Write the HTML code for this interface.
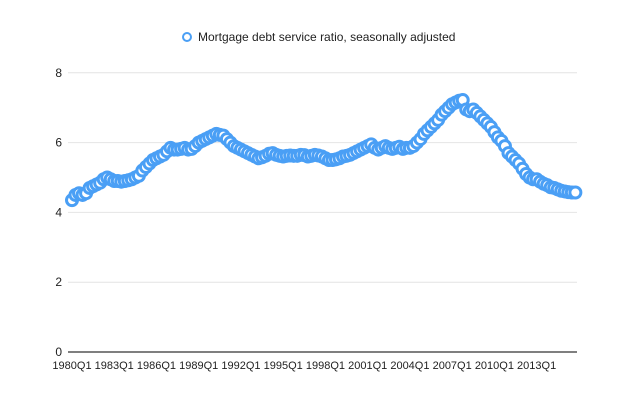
<!DOCTYPE html>
<html><head><meta charset="utf-8"><style>
body{margin:0;background:#fff;font-family:"Liberation Sans",Arial,sans-serif;}
</style></head><body>
<svg id="chart" width="640" height="410" xmlns="http://www.w3.org/2000/svg" font-family="Liberation Sans, Arial, sans-serif">
<g>
<circle cx="187" cy="37" r="4" fill="#fff" stroke="#4a9ff5" stroke-width="2"/>
<text x="198" y="41" font-size="12" fill="#222">Mortgage debt service ratio, seasonally adjusted</text>
</g>
<g id="grid"></g>
<g id="yt"></g>
<g id="xt"></g>
<g id="pts"></g>
</svg>
<script>
const yTicks=[0,2,4,6,8];
const xLabels=["1980Q1","1983Q1","1986Q1","1989Q1","1992Q1","1995Q1","1998Q1","2001Q1","2004Q1","2007Q1","2010Q1","2013Q1"];
const values=[
4.35,4.5,4.55,4.5, 4.55,4.7,4.75,4.8, 4.85,4.95,5.0,4.95, 4.9,4.9,4.88,4.9,
4.92,4.95,5.0,5.05, 5.2,5.3,5.4,5.5, 5.55,5.6,5.65,5.75, 5.85,5.8,5.8,5.82,
5.85,5.8,5.82,5.9, 6.0,6.05,6.1,6.15, 6.2,6.25,6.22,6.2, 6.1,6.0,5.9,5.85,
5.8,5.75,5.7,5.65, 5.6,5.55,5.58,5.62, 5.68,5.7,5.65,5.62, 5.6,5.62,5.63,5.62,
5.62,5.65,5.64,5.6, 5.62,5.65,5.63,5.6, 5.55,5.5,5.5,5.52, 5.55,5.6,5.62,5.65,
5.7,5.75,5.8,5.85, 5.9,5.95,5.85,5.8, 5.85,5.9,5.85,5.82, 5.85,5.88,5.82,5.85,
5.85,5.9,6.0,6.1, 6.25,6.35,6.45,6.55, 6.65,6.8,6.9,7.0, 7.1,7.15,7.2,7.22,
6.95,6.9,6.95,6.85, 6.75,6.65,6.55,6.45, 6.3,6.15,6.05,5.9, 5.7,5.6,5.5,5.4,
5.25,5.1,5.0,4.95, 4.95,4.88,4.82,4.78, 4.72,4.7,4.66,4.62, 4.6,4.58,4.57,4.57];
const NS="http://www.w3.org/2000/svg";
const x0=72,dx=3.52,plotL=68,plotR=577;
const X=i=>x0+i*dx;
const Y=v=>352-v*34.9;
function mk(t,a,p){const e=document.createElementNS(NS,t);for(const k in a)e.setAttribute(k,a[k]);p.appendChild(e);return e;}
const grid=document.getElementById('grid'),yt=document.getElementById('yt'),xt=document.getElementById('xt'),pts=document.getElementById('pts');
yTicks.forEach(v=>{
 const l=mk('line',{x1:plotL,x2:plotR,y1:Y(v),y2:Y(v),stroke:v===0?'#333':'#e4e4e4','stroke-width':v===0?1.2:1},grid);
 
 
 const t=mk('text',{x:62,y:Y(v)+4,'text-anchor':'end','font-size':12,fill:'#222'},yt);
 t.textContent=v;
 
 
});
xLabels.forEach((s,k)=>{
 const t=mk('text',{x:X(k*12),y:369,'text-anchor':'middle','font-size':11,fill:'#222'},xt);
 t.textContent=s;
 
 
});
values.forEach((v,i)=>{
 const c=mk('circle',{cx:X(i),cy:Y(v),r:5.5,fill:'#fff',stroke:'#4a9ff5','stroke-width':3},pts);
 
 
});
</script>
</body></html>
